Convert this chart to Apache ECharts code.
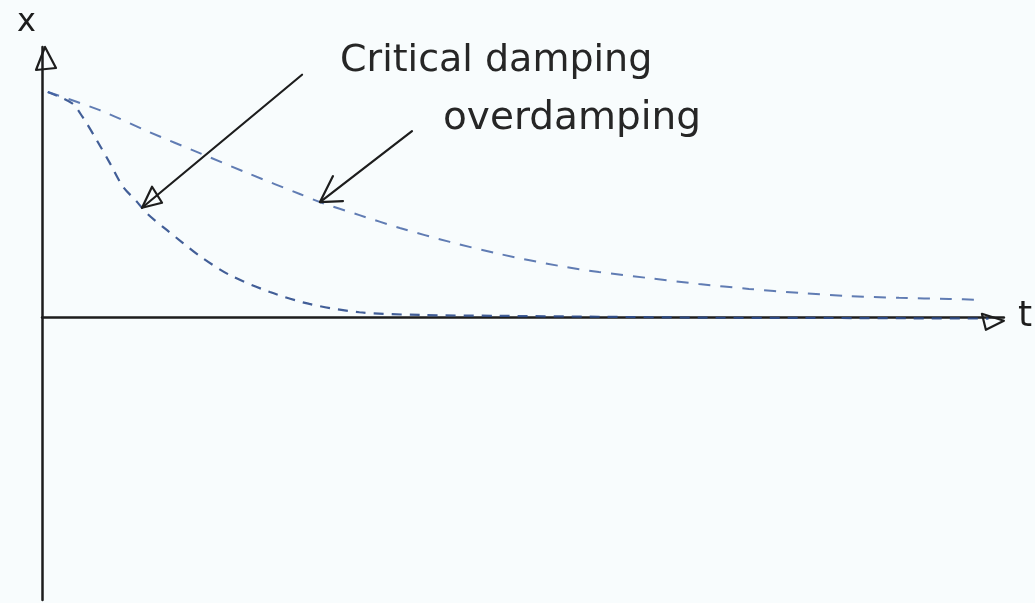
<!DOCTYPE html>
<html>
<head>
<meta charset="utf-8">
<script src="https://cdn.jsdelivr.net/npm/echarts@6/dist/echarts.min.js"></script>
<style>
  html, body { margin: 0; padding: 0; background: #f8fcfd; }
  #main { width: 1035px; height: 603px; }
</style>
</head>
<body>
<div id="main"></div>
<script>
// Displacement x against time t for two non-oscillating responses
const criticalT = [0.06, 0.31, 0.42, 0.57, 0.71, 0.84, 0.99, 1.09, 1.30, 1.46, 1.64, 1.95, 2.37, 2.78, 3.30, 3.93, 4.76, 5.79, 6.83, 7.87, 9.84];
const criticalX = [1.00, 0.95, 0.89, 0.785, 0.68, 0.58, 0.51, 0.46, 0.385, 0.33, 0.27, 0.186, 0.11, 0.057, 0.02, 0.008, 0.004, 0.0, -0.004, -0.005, -0.008];

const overT = [0.06, 0.60, 1.12, 1.64, 2.16, 2.68, 2.89, 3.30, 3.72, 4.24, 4.76, 5.38, 5.79, 6.31, 6.83, 7.35, 7.87, 8.39, 8.91, 9.43, 9.77];
const overX = [1.00, 0.919, 0.821, 0.728, 0.635, 0.546, 0.51, 0.452, 0.395, 0.333, 0.279, 0.226, 0.199, 0.172, 0.146, 0.124, 0.106, 0.092, 0.084, 0.079, 0.075];

const seriesNames = ['Critical damping', 'overdamping'];
const axisNames = { t: 't', x: 'x' };

const zip = (ts, xs) => ts.map((t, i) => [t, xs[i]]);

const INK = '#1d1d1d';
const chart = echarts.init(document.getElementById('main'), null, { renderer: 'canvas' });

chart.setOption({
  backgroundColor: '#f8fcfd',
  animation: false,
  grid: { left: 42, right: 30, top: 47, bottom: 3 },
  xAxis: {
    type: 'value', min: 0, max: 10,
    name: axisNames.t, nameLocation: 'end', nameGap: 14,
    nameTextStyle: { color: INK, fontSize: 36, fontFamily: 'DejaVu Sans', align: 'left', verticalAlign: 'middle', padding: [14, 0, 0, 0] },
    axisLine: { onZero: true, lineStyle: { color: INK, width: 2.5 } },
    axisTick: { show: false }, axisLabel: { show: false }, splitLine: { show: false }
  },
  yAxis: {
    type: 'value', min: -1.26, max: 1.2,
    name: axisNames.x, nameLocation: 'end', nameGap: 8,
    nameTextStyle: { color: INK, fontSize: 32, fontFamily: 'DejaVu Sans', align: 'right', padding: [0, 6, 0, 0] },
    axisLine: { lineStyle: { color: INK, width: 2.5 } },
    axisTick: { show: false }, axisLabel: { show: false }, splitLine: { show: false }
  },
  series: [
    {
      name: seriesNames[0], type: 'line', data: zip(criticalT, criticalX),
      smooth: 0.3, symbol: 'none', z: 3,
      lineStyle: { color: '#2e4d8c', width: 2.2, type: [10, 8], opacity: 0.9 }
    },
    {
      name: seriesNames[1], type: 'line', data: zip(overT, overX),
      smooth: 0.3, symbol: 'none', z: 3,
      lineStyle: { color: '#4565a6', width: 2, type: [12, 10], opacity: 0.85 }
    }
  ]
});

// Arrowheads on the axes and the labelled pointer arrows
const px = p => chart.convertToPixel({ gridIndex: 0 }, p);
const yTop = px([0, 1.2]);
const xEnd = px([10, 0]);

const critA = px([criticalT[6], criticalX[6]]);
const critB = px([criticalT[7], criticalX[7]]);
const critTip = [(critA[0] + critB[0]) / 2, (critA[1] + critB[1]) / 2];
const overTip = px([overT[6], overX[6]]);

const stroke = { stroke: INK, lineWidth: 2.2, fill: 'none', lineJoin: 'round', lineCap: 'round' };

chart.setOption({
  graphic: [
    // x-axis arrowhead
    { type: 'polygon', shape: { points: [[yTop[0] + 3, yTop[1]], [yTop[0] - 6, yTop[1] + 23], [yTop[0] + 14, yTop[1] + 21]] }, style: stroke, z: 10 },
    // t-axis arrowhead
    { type: 'polygon', shape: { points: [[xEnd[0] - 22, xEnd[1] - 3], [xEnd[0], xEnd[1] + 4], [xEnd[0] - 18, xEnd[1] + 13]] }, style: stroke, z: 10 },
    // pointer to critical damping curve
    { type: 'polyline', shape: { points: [[critTip[0] + 160, critTip[1] - 133], critTip] }, style: stroke, z: 10 },
    { type: 'polygon', shape: { points: [critTip, [critTip[0] + 10, critTip[1] - 21], [critTip[0] + 20, critTip[1] - 5]] }, style: stroke, z: 10 },
    // pointer to overdamping curve
    { type: 'polyline', shape: { points: [[overTip[0] + 92, overTip[1] - 71], overTip] }, style: stroke, z: 10 },
    { type: 'polyline', shape: { points: [[overTip[0] + 13, overTip[1] - 26], overTip, [overTip[0] + 23, overTip[1] - 1]] }, style: stroke, z: 10 },
    // curve labels
    { type: 'text', left: 340, top: 42, style: { text: seriesNames[0], fill: '#262626', font: '38px "DejaVu Sans"' }, z: 10 },
    { type: 'text', left: 443, top: 99, style: { text: seriesNames[1], fill: '#262626', font: '39px "DejaVu Sans"' }, z: 10 }
  ]
});
</script>
</body>
</html>
